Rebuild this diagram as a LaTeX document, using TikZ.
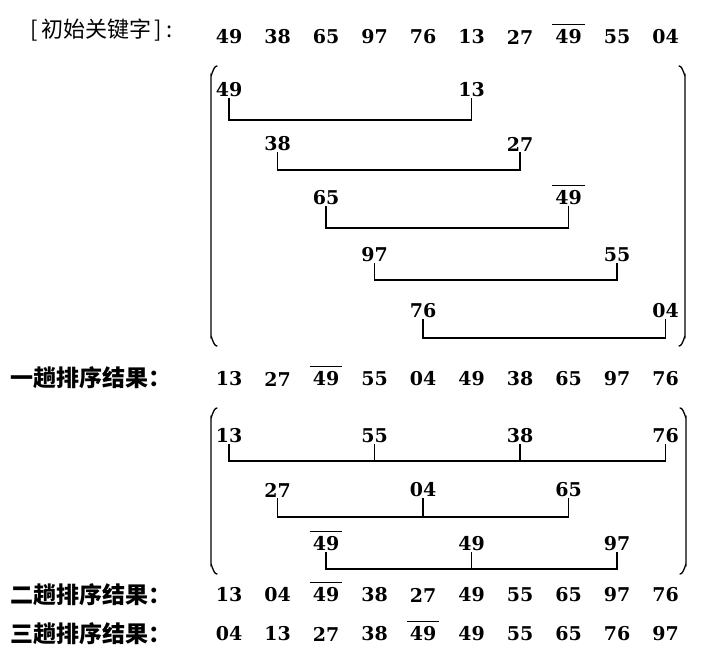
\documentclass[tikz,border=0pt]{standalone}
\usepackage{fontspec}
\newfontfamily\numfont{DejaVu Serif}
\newfontfamily\cjkfont{Noto Sans CJK SC}
\begin{document}
\begin{tikzpicture}[x=1pt,y=-1pt,
    num/.style={font=\numfont\bfseries\fontsize{19}{19}\selectfont, inner sep=1pt},
    lbl/.style={font=\cjkfont\bfseries\fontsize{23}{23}\selectfont, anchor=west, inner sep=0pt},
    link/.style={line width=1.2pt},
    brace/.style={line width=1.3pt, line cap=round}]
  \useasboundingbox (0,0) rectangle (714,651);

  % labels
  \node[lbl, font=\cjkfont\fontsize{22}{22}\selectfont] (l0) at (30,30) {[\,初始关键字\,]\,:};
  \node[lbl] (l1) at (10,378) {一趟排序结果：};
  \node[lbl] (l2) at (10,595) {二趟排序结果：};
  \node[lbl] (l3) at (10,634) {三趟排序结果：};

  % rows of keys
  \foreach \v [count=\i] in {49,38,65,97,76,13,27,49,55,04}
    \node[num] (i\i) at ({229+48.5*(\i-1)},37) {\v};
  \foreach \v [count=\i] in {13,27,49,55,04,49,38,65,97,76}
    \node[num] (r1-\i) at ({229+48.5*(\i-1)},379) {\v};
  \foreach \v [count=\i] in {13,04,49,38,27,49,55,65,97,76}
    \node[num] (r2-\i) at ({229+48.5*(\i-1)},595) {\v};
  \foreach \v [count=\i] in {04,13,27,38,49,49,55,65,76,97}
    \node[num] (r3-\i) at ({229+48.5*(\i-1)},634) {\v};

  % first pass, step 5
  \node[num] (u1) at (229,90) {49};    \node[num] (v1) at (471.5,90) {13};
  \node[num] (u2) at (277.5,144) {38}; \node[num] (v2) at (520,144) {27};
  \node[num] (u3) at (326,198) {65};   \node[num] (v3) at (568.5,198) {49};
  \node[num] (u4) at (374.5,255) {97}; \node[num] (v4) at (617,255) {55};
  \node[num] (u5) at (423,311) {76};   \node[num] (v5) at (665.5,311) {04};

  \draw[link] (u1.south) -- (u1.south |- 0,120) -| (v1.south);
  \draw[link] (u2.south) -- (u2.south |- 0,170) -| (v2.south);
  \draw[link] (u3.south) -- (u3.south |- 0,228) -| (v3.south);
  \draw[link] (u4.south) -- (u4.south |- 0,280) -| (v4.south);
  \draw[link] (u5.south) -- (u5.south |- 0,338) -| (v5.south);

  % second pass, step 3
  \node[num] (w1a) at (229,436) {13};
  \node[num] (w1b) at (374.5,436) {55};
  \node[num] (w1c) at (520,436) {38};
  \node[num] (w1d) at (665.5,436) {76};
  \node[num] (w2a) at (277.5,490) {27};
  \node[num] (w2b) at (423,490) {04};
  \node[num] (w2c) at (568.5,490) {65};
  \node[num] (w3a) at (326,544) {49};
  \node[num] (w3b) at (471.5,544) {49};
  \node[num] (w3c) at (617,544) {97};

  \draw[link] (w1a.south) -- (w1a.south |- 0,461) -| (w1d.south);
  \draw[link] (w1b.south) -- (w1b.south |- 0,461);
  \draw[link] (w1c.south) -- (w1c.south |- 0,461);
  \draw[link] (w2a.south) -- (w2a.south |- 0,517) -| (w2c.south);
  \draw[link] (w2b.south) -- (w2b.south |- 0,517);
  \draw[link] (w3a.south) -- (w3a.south |- 0,569) -| (w3c.south);
  \draw[link] (w3b.south) -- (w3b.south |- 0,569);

  % bars over the second 49
  \foreach \n in {i8,v3,r1-3,w3a,r2-3,r3-5}
    \draw[link] ([xshift=-2pt,yshift=4pt]\n.north west) -- ([xshift=2pt,yshift=4pt]\n.north east);

  % big brackets
  \draw[brace] (217,66) to[out=180,in=-90] (211,75) -- (211,337) to[out=90,in=180] (217,346);
  \draw[brace] (679,66) to[out=0,in=-90] (685,75) -- (685,337) to[out=90,in=0] (679,346);
  \draw[brace] (217,408) to[out=180,in=-90] (211,417) -- (211,565) to[out=90,in=180] (217,574);
  \draw[brace] (680,408) to[out=0,in=-90] (686,417) -- (686,565) to[out=90,in=0] (680,574);
\end{tikzpicture}
\end{document}
